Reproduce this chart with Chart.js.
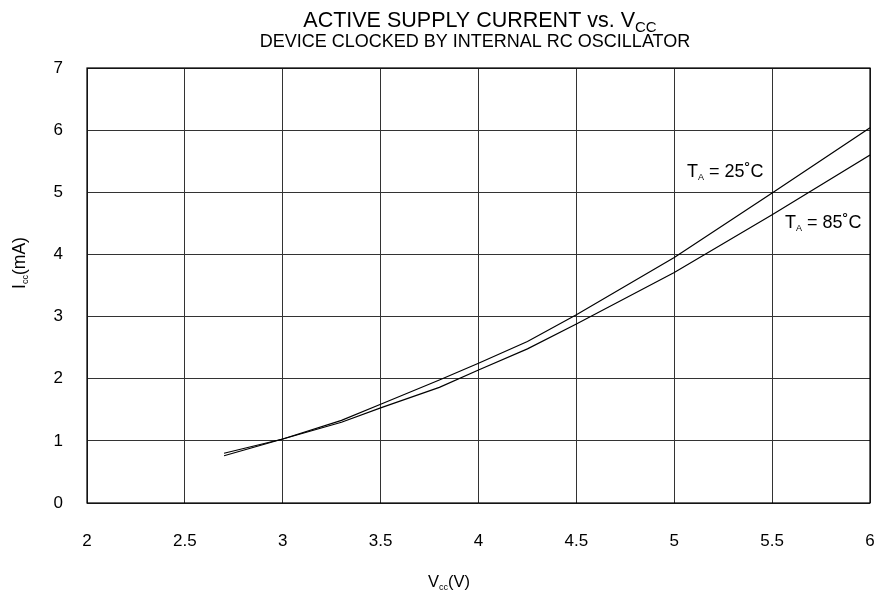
<!DOCTYPE html>
<html>
<head>
<meta charset="utf-8">
<script src="https://cdn.jsdelivr.net/npm/chart.js@4/dist/chart.umd.min.js"></script>
<style>
  html, body { margin: 0; padding: 0; background: #fff; }
  #wrap { width: 882px; height: 595px; }
</style>
</head>
<body>
<div id="wrap"><canvas id="iccChart" width="882" height="595"></canvas></div>
<script>
// supply voltage (V) and active current (mA) per temperature
const vccPoints = [2.7, 3, 3.3, 3.5, 3.8, 4, 4.25, 4.5, 5, 5.5, 6];
const icc25 = [0.76, 1.03, 1.33, 1.59, 1.98, 2.25, 2.6, 3.03, 3.95, 4.99, 6.04];
const icc85 = [0.80, 1.03, 1.30, 1.53, 1.86, 2.14, 2.48, 2.88, 3.71, 4.64, 5.6];
const xTicks = [2, 2.5, 3, 3.5, 4, 4.5, 5, 5.5, 6];
const yTicks = [0, 1, 2, 3, 4, 5, 6, 7];

const FONT = '"Liberation Sans", Arial, Helvetica, sans-serif';

// text with a subscript run: parts = [[text, size, dy], ...]
function drawRuns(ctx, parts, x, y, align) {
  let total = 0;
  parts.forEach(p => { ctx.font = p[1] + 'px ' + FONT; total += ctx.measureText(p[0]).width; });
  let cx = align === 'center' ? x - total / 2 : x;
  ctx.textAlign = 'left';
  ctx.textBaseline = 'alphabetic';
  parts.forEach(p => {
    ctx.font = p[1] + 'px ' + FONT;
    ctx.fillText(p[0], cx, y + p[2]);
    cx += ctx.measureText(p[0]).width;
  });
}

const textPlugin = {
  id: 'textPlugin',
  afterDraw(chart) {
    const ctx = chart.ctx;
    const area = chart.chartArea;
    const xs = chart.scales.x, ys = chart.scales.y;
    ctx.save();
    ctx.fillStyle = '#000';
    // titles
    drawRuns(ctx, [['ACTIVE SUPPLY CURRENT vs. V', 21.5, 0], ['CC', 15, 5]], 480, 27, 'center');
    drawRuns(ctx, [['DEVICE CLOCKED BY INTERNAL RC OSCILLATOR', 18, 0]], 475, 47, 'center');
    // x axis title
    drawRuns(ctx, [['V', 16.5, 0], ['cc', 9, 3], ['(V)', 16.5, 0]], 449, 587, 'center');
    // y axis title
    ctx.save();
    ctx.translate(25, 263);
    ctx.rotate(-Math.PI / 2);
    drawRuns(ctx, [['I', 17.5, 0], ['cc', 9, 3], ['(mA)', 17.5, 0]], 0, 0, 'center');
    ctx.restore();
    // curve labels
    drawRuns(ctx, [['T', 18, 0], ['A', 9, 3], [' = 25˚C', 18, 0]], xs.getPixelForValue(5.065), ys.getPixelForValue(5.25), 'left');
    drawRuns(ctx, [['T', 18, 0], ['A', 9, 3], [' = 85˚C', 18, 0]], xs.getPixelForValue(5.566), ys.getPixelForValue(4.43), 'left');
    // frame
    ctx.strokeStyle = '#000';
    ctx.lineWidth = 1.2;
    ctx.strokeRect(area.left, area.top, area.right - area.left, area.bottom - area.top);
    ctx.restore();
  }
};

new Chart(document.getElementById('iccChart').getContext('2d'), {
  type: 'line',
  data: {
    labels: vccPoints,
    datasets: [
      {
        label: 'TA = 25°C',
        data: vccPoints.map((v, i) => ({ x: v, y: icc25[i] })),
        borderColor: '#000',
        borderWidth: 1.2,
        pointRadius: 0,
        tension: 0,
        fill: false
      },
      {
        label: 'TA = 85°C',
        data: vccPoints.map((v, i) => ({ x: v, y: icc85[i] })),
        borderColor: '#000',
        borderWidth: 1.2,
        pointRadius: 0,
        tension: 0,
        fill: false
      }
    ]
  },
  options: {
    responsive: false,
    animation: false,
    layout: { padding: { left: 0, right: 12, top: 68, bottom: 0 } },
    plugins: {
      legend: { display: false },
      tooltip: { enabled: false },
      title: { display: false }
    },
    scales: {
      x: {
        type: 'linear',
        min: 2,
        max: 6,
        afterFit: s => { s.height = 92; s.paddingLeft = 0; s.paddingRight = 0; },
        afterBuildTicks: s => { s.ticks = xTicks.map(v => ({ value: v })); },
        grid: { color: '#333', lineWidth: 1, drawTicks: false },
        border: { display: false },
        ticks: {
          color: '#000',
          font: { family: FONT, size: 17 },
          padding: 28,
          maxRotation: 0,
          callback: v => String(v)
        }
      },
      y: {
        type: 'linear',
        min: 0,
        max: 7,
        afterFit: s => { s.width = 87; s.paddingTop = 0; s.paddingBottom = 0; },
        afterBuildTicks: s => { s.ticks = yTicks.map(v => ({ value: v })); },
        grid: { color: '#333', lineWidth: 1, drawTicks: false },
        border: { display: false },
        ticks: {
          color: '#000',
          font: { family: FONT, size: 17 },
          padding: 24,
          callback: v => String(v)
        }
      }
    }
  },
  plugins: [textPlugin]
});
</script>
</body>
</html>
